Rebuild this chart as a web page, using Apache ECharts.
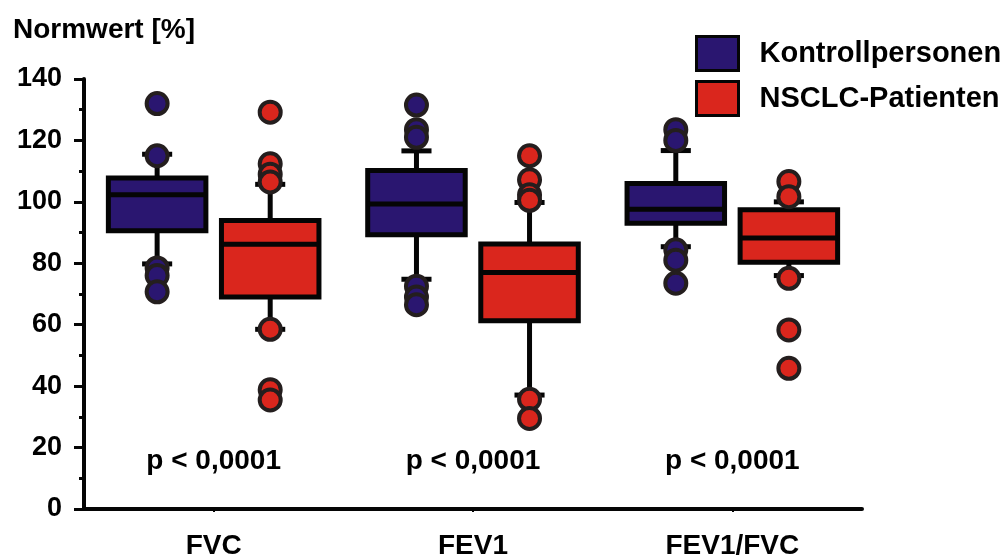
<!DOCTYPE html>
<html>
<head>
<meta charset="utf-8">
<script src="https://cdn.jsdelivr.net/npm/echarts@6/dist/echarts.min.js"></script>
<style>
  html, body { margin: 0; padding: 0; background: #fff; }
  #chart-container { width: 1006px; height: 556px; }
</style>
</head>
<body>
<div id="chart-container"></div>
<script>
var categories = ['FVC', 'FEV1', 'FEV1/FVC'];
var yTicks = [0, 20, 40, 60, 80, 100, 120, 140];

// [whisker low, Q1, median, Q3, whisker high]
var kontrollBoxes = [
  [79.8, 90.6, 102.3, 107.8, 115.5],
  [74.8, 89.3, 99.3, 110.2, 116.6],
  [85.4, 93.0, 97.6, 106.0, 116.7]
];
var patientenBoxes = [
  [58.5, 69.0, 86.2, 93.9, 105.7],
  [37.1, 61.3, 77.0, 86.3, 99.8],
  [76.0, 80.3, 88.2, 97.4, 100.0]
];

// outliers per category
var kontrollOutliers = [
  [132, 115, 78.5, 76, 70.7],
  [131.5, 123.5, 121, 72.5, 69, 66.5],
  [123.5, 120, 84.4, 81, 73.5]
];
var patientenOutliers = [
  [129.2, 112.4, 109, 106.5, 58.5, 38.8, 35.5],
  [115, 107.2, 102.3, 100.5, 35.7, 29.5],
  [106.6, 101.7, 75.1, 58.3, 45.8]
];

var pLabels = ['p < 0,0001', 'p < 0,0001', 'p < 0,0001'];

var dom = document.getElementById('chart-container');
var myChart = echarts.init(dom, null, { renderer: 'canvas' });

var FONT = '"Liberation Sans", Arial, sans-serif';
var BLUE = '#2a1670';
var RED = '#da261d';
var INK = '#050505';
var DOT_EDGE = '#241e1e';

function boxSeries(name, side, boxes, fill) {
  return {
    name: name,
    type: 'custom',
    itemStyle: { color: fill, borderColor: INK, borderWidth: 3 },
    data: boxes.map(function (b, i) { return [i].concat(b); }),
    encode: { x: 0, y: [1, 2, 3, 4, 5] },
    renderItem: function (params, api) {
      var cat = api.value(0);
      var band = api.size([1, 0])[0];
      var x = api.coord([cat, 0])[0] + side * band * 0.218;
      var half = band * 0.188;
      var capHalf = band * 0.058;
      var yMin = api.coord([cat, api.value(1)])[1];
      var yQ1 = api.coord([cat, api.value(2)])[1];
      var yMed = api.coord([cat, api.value(3)])[1];
      var yQ3 = api.coord([cat, api.value(4)])[1];
      var yMax = api.coord([cat, api.value(5)])[1];
      var ls = { stroke: INK, lineWidth: 5 };
      return {
        type: 'group',
        children: [
          { type: 'line', shape: { x1: x, y1: yQ3, x2: x, y2: yMax }, style: ls },
          { type: 'line', shape: { x1: x, y1: yQ1, x2: x, y2: yMin }, style: ls },
          { type: 'line', shape: { x1: x - capHalf, y1: yMax, x2: x + capHalf, y2: yMax }, style: ls },
          { type: 'line', shape: { x1: x - capHalf, y1: yMin, x2: x + capHalf, y2: yMin }, style: ls },
          { type: 'rect', shape: { x: x - half, y: yQ3, width: half * 2, height: yQ1 - yQ3 },
            style: { fill: fill, stroke: INK, lineWidth: 5 } },
          { type: 'line', shape: { x1: x - half, y1: yMed, x2: x + half, y2: yMed }, style: ls }
        ]
      };
    },
    z: 2
  };
}

function outlierSeries(name, side, outliers, fill) {
  var data = [];
  outliers.forEach(function (list, i) {
    list.forEach(function (v) { data.push([i, v]); });
  });
  return {
    name: name,
    type: 'custom',
    data: data,
    encode: { x: 0, y: 1 },
    renderItem: function (params, api) {
      var cat = api.value(0);
      var band = api.size([1, 0])[0];
      var p = api.coord([cat, api.value(1)]);
      return {
        type: 'circle',
        shape: { cx: p[0] + side * band * 0.218, cy: p[1], r: 10.5 },
        style: { fill: fill, stroke: DOT_EDGE, lineWidth: 4 }
      };
    },
    z: 3
  };
}

var option = {
  animation: false,
  backgroundColor: '#fff',
  title: {
    text: 'Normwert [%]',
    left: 13,
    top: 16,
    padding: 0,
    textStyle: { fontFamily: FONT, fontWeight: 'bold', fontSize: 28, color: '#000' }
  },
  legend: {
    orient: 'vertical',
    left: 695,
    top: 35,
    padding: 0,
    itemWidth: 42,
    itemHeight: 34,
    itemGap: 8,
    data: [
      { name: 'Kontrollpersonen', icon: 'rect' },
      { name: 'NSCLC-Patienten', icon: 'rect' }
    ],
    itemStyle: { borderColor: INK, borderWidth: 3 },
    textStyle: {
      fontFamily: FONT, fontWeight: 'bold', fontSize: 29, color: '#000',
      padding: [0, 0, 0, 16]
    }
  },
  grid: {
    left: 84,
    right: 144,
    top: 79,
    bottom: 47,
    containLabel: false,
    outerBoundsMode: 'none'
  },
  xAxis: {
    type: 'category',
    data: categories,
    boundaryGap: true,
    axisLine: { lineStyle: { color: INK, width: 4 } },
    axisTick: { show: true, alignWithLabel: true, length: 3, lineStyle: { color: INK, width: 2 } },
    axisLabel: {
      margin: 23,
      fontFamily: FONT, fontWeight: 'bold', fontSize: 28, color: '#000'
    },
    splitLine: { show: false }
  },
  yAxis: {
    type: 'value',
    min: yTicks[0],
    max: yTicks[yTicks.length - 1],
    interval: 20,
    axisLine: { show: true, lineStyle: { color: INK, width: 4 } },
    axisTick: { show: true, length: 10, lineStyle: { color: INK, width: 3 } },
    minorTick: { show: true, splitNumber: 2, length: 5, lineStyle: { color: INK, width: 3 } },
    axisLabel: {
      margin: 22,
      fontFamily: FONT, fontWeight: 'bold', fontSize: 27, color: '#000'
    },
    splitLine: { show: false }
  },
  series: [
    boxSeries('Kontrollpersonen', -1, kontrollBoxes, BLUE),
    boxSeries('NSCLC-Patienten', 1, patientenBoxes, RED),
    outlierSeries('Kontroll-Ausreißer', -1, kontrollOutliers, BLUE),
    outlierSeries('Patienten-Ausreißer', 1, patientenOutliers, RED),
    {
      name: 'p-Werte',
      type: 'custom',
      data: pLabels.map(function (t, i) { return [i, 15.6]; }),
      encode: { x: 0, y: 1 },
      renderItem: function (params, api) {
        var p = api.coord([api.value(0), api.value(1)]);
        return {
          type: 'text',
          x: p[0],
          y: p[1],
          style: {
            text: pLabels[params.dataIndex],
            fill: '#000',
            fontFamily: FONT,
            fontWeight: 'bold',
            fontSize: 28,
            align: 'center',
            verticalAlign: 'middle'
          }
        };
      },
      z: 4
    }
  ]
};

if (option && typeof option === 'object') {
  myChart.setOption(option);
}

window.addEventListener('resize', myChart.resize);
</script>
</body>
</html>
